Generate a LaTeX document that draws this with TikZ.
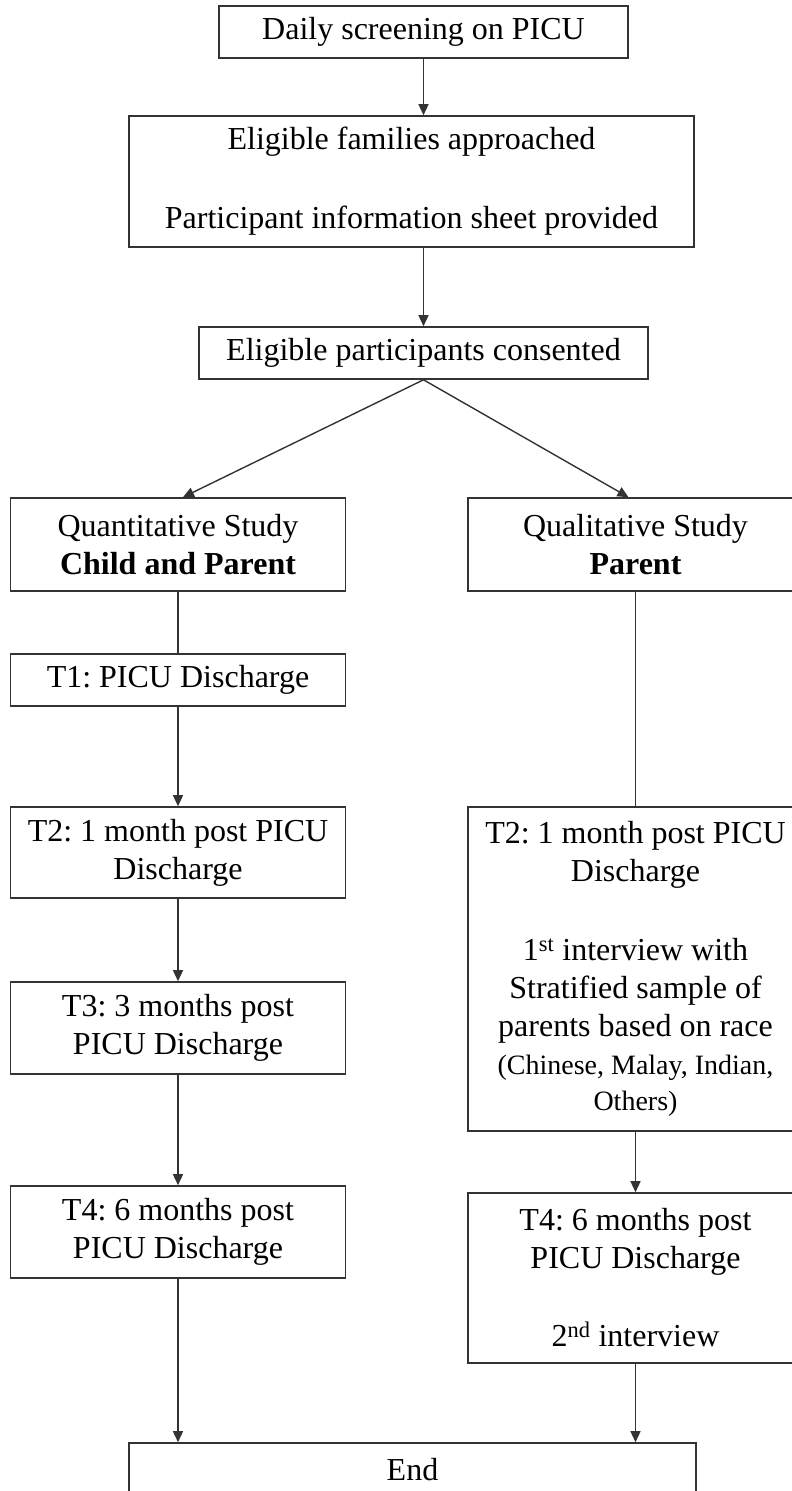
\documentclass[tikz,border=0pt]{standalone}
\usepackage{fontspec}
\setmainfont{Liberation Serif}
\usetikzlibrary{arrows.meta,calc}
\frenchspacing
\begin{document}
\begin{tikzpicture}[x=1pt,y=-1pt,
  box/.style={draw=black!80, line width=1.6pt, rectangle, inner sep=0pt, align=center, font=\fontsize{32}{38}\selectfont\frenchspacing},
  lbox/.style={box, minimum width=335pt},
  arr/.style={draw=black!80, line width=1.4pt, -{Triangle[length=11pt,width=10pt]}},
  ln/.style={draw=black!80, line width=1.4pt}]
\useasboundingbox (0,0) rectangle (792,1491);
\clip (0,0) rectangle (792,1491);
% top chain
\node[box, minimum width=409pt, minimum height=52pt] (b1) at (423.5,32) {Daily screening on PICU};
\node[box, minimum width=565pt, minimum height=131pt] (b2) at (411.5,181.5) {Eligible families approached\\[41pt]Participant information sheet provided};
\node[box, minimum width=449pt, minimum height=52pt] (b3) at (423.5,353) {Eligible participants consented};
% left column
\node[lbox, minimum height=93pt] (quant) at (178,544.5) {Quantitative Study\\\textbf{Child and Parent}};
\node[lbox, minimum height=52pt] (t1) at (178,680) {T1: PICU Discharge};
\node[lbox, minimum height=91pt] (t2l) at (178,852.5) {T2: 1 month post PICU\\Discharge};
\node[lbox, minimum height=92pt] (t3) at (178,1028) {T3: 3 months post\\PICU Discharge};
\node[lbox, minimum height=92pt] (t4l) at (178,1232) {T4: 6 months post\\PICU Discharge};
% right column
\node[lbox, minimum height=93pt] (qual) at (635.5,544.5) {Qualitative Study\\\textbf{Parent}};
\node[lbox, minimum height=324pt] (t2r) at (635.5,969) {T2: 1 month post PICU\\Discharge\\[41pt]1\textsuperscript{st} interview with\\Stratified sample of\\parents based on race\\{\fontsize{28}{34}\selectfont (Chinese, Malay, Indian,}\\[-2pt]{\fontsize{28}{34}\selectfont Others)}};
\node[lbox, minimum height=170pt] (t4r) at (635.5,1278) {T4: 6 months post\\PICU Discharge\\[40pt]2\textsuperscript{nd} interview};
% end
\node[box, minimum width=567pt, minimum height=54pt] (end) at (412.5,1470) {End};
% connectors
\draw[arr] (b1.south) -- (b1.south |- b2.north);
\draw[arr] (b3.south |- b2.south) -- (b3.north);
\draw[arr] (b3.south) -- ($(quant.north)+(5,0)$);
\draw[arr] (b3.south) -- ($(qual.north)+(-7,0)$);
\draw[ln] (quant.south) -- (t1.north);
\draw[arr] (t1.south) -- (t2l.north);
\draw[arr] (t2l.south) -- (t3.north);
\draw[arr] (t3.south) -- (t4l.north);
\draw[arr] (t4l.south) -- (t4l.south |- end.north);
\draw[ln] (qual.south) -- (t2r.north);
\draw[arr] (t2r.south) -- (t4r.north);
\draw[arr] (t4r.south) -- (t4r.south |- end.north);
\end{tikzpicture}
\end{document}
